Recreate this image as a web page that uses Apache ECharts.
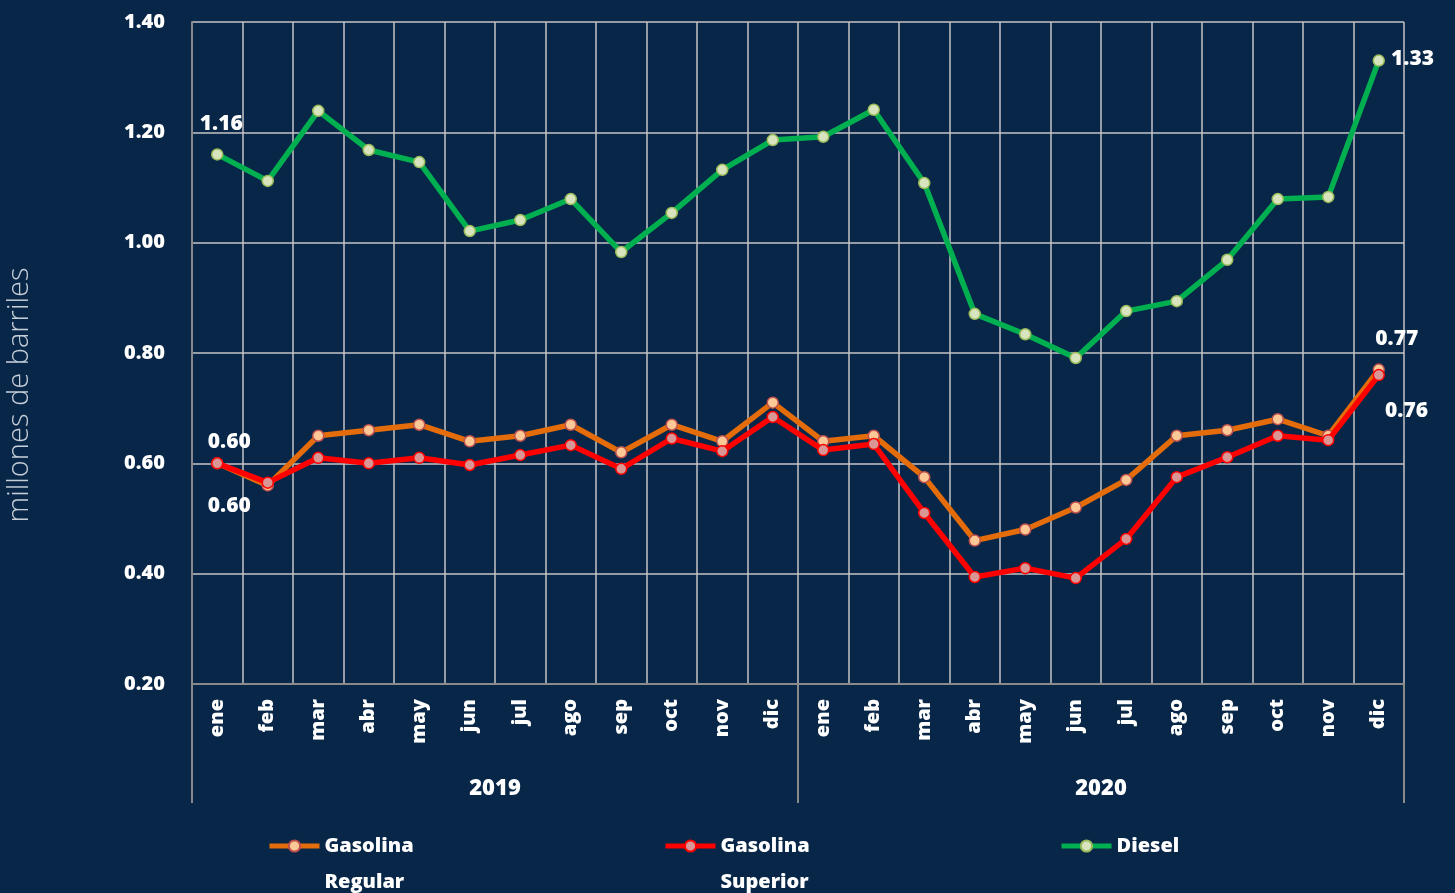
<!DOCTYPE html>
<html>
<head>
<meta charset="utf-8">
<script src="https://cdn.jsdelivr.net/npm/echarts@6/dist/echarts.min.js"></script>
<style>
  html, body { margin: 0; padding: 0; background: #082748; }
  #chart { width: 1455px; height: 893px; }
</style>
</head>
<body>
<div id="chart"></div>
<script>
// months for 2019 and 2020
const months = ['ene', 'feb', 'mar', 'abr', 'may', 'jun', 'jul', 'ago', 'sep', 'oct', 'nov', 'dic',
  'ene', 'feb', 'mar', 'abr', 'may', 'jun', 'jul', 'ago', 'sep', 'oct', 'nov', 'dic']
const years = ['2019', '2020']

const gasRegular = [0.60, 0.56, 0.65, 0.66, 0.67, 0.64, 0.65, 0.67, 0.62, 0.67, 0.64, 0.71,
  0.64, 0.65, 0.575, 0.46, 0.48, 0.52, 0.57, 0.65, 0.66, 0.68, 0.65, 0.77]
const gasSuperior = [0.60, 0.565, 0.61, 0.60, 0.61, 0.597, 0.615, 0.633, 0.59, 0.645, 0.622, 0.684,
  0.624, 0.635, 0.51, 0.394, 0.41, 0.392, 0.463, 0.575, 0.611, 0.65, 0.642, 0.76]
const diesel = [1.16, 1.112, 1.239, 1.168, 1.146, 1.021, 1.041, 1.079, 0.983, 1.054, 1.132, 1.186,
  1.192, 1.241, 1.108, 0.871, 0.834, 0.791, 0.876, 0.894, 0.969, 1.079, 1.083, 1.33]

const seriesNames = ['Gasolina\nRegular', 'Gasolina\nSuperior', 'Diesel']

const fontFam = '"Open Sans", sans-serif'
const gridColor = '#c4c4c4'
const axisColor = '#8a8a8a'

const labelStyle = {
  show: true,
  color: '#fff',
  fontFamily: fontFam,
  fontWeight: 800,
  fontSize: 21,
  formatter: p => p.value.toFixed(2)
}

// only the first and last points carry a label
const withLabels = (values, first, last) => values.map((v, i) => {
  if (i === 0 && first) return { value: v, label: Object.assign({}, labelStyle, first) }
  if (i === values.length - 1 && last) return { value: v, label: Object.assign({}, labelStyle, last) }
  return v
})

// one legend per series so each sits where the reference puts it
const legendAt = (name, left) => ({
  left: left,
  top: 787,
  itemWidth: 50,
  itemHeight: 14,
  lineStyle: { width: 5 },
  textStyle: {
    color: '#fff',
    fontFamily: fontFam,
    fontWeight: 800,
    fontSize: 20,
    lineHeight: 36
  },
  // two-line names get an empty first line so the icon stays level with the first word
  formatter: n => n.indexOf('\n') >= 0 ? ' \n' + n : n,
  data: [name]
})

const chart = echarts.init(document.getElementById('chart'))
chart.setOption({
  backgroundColor: '#082748',
  animation: false,
  grid: { left: 192, right: 51, top: 22, bottom: 209, containLabel: false, outerBoundsMode: 'none' },
  legend: [
    legendAt(seriesNames[0], 262),
    legendAt(seriesNames[1], 658),
    Object.assign(legendAt(seriesNames[2], 1054), { top: 823 })
  ],
  xAxis: [
    {
      type: 'category',
      data: months,
      axisLine: { lineStyle: { color: axisColor, width: 2 } },
      axisTick: { show: false },
      splitLine: { show: true, interval: 0, lineStyle: { color: gridColor, width: 1.5 } },
      axisLabel: {
        interval: 0,
        rotate: 90,
        margin: 15,
        color: '#fff',
        fontFamily: fontFam,
        fontWeight: 800,
        fontSize: 20
      }
    },
    {
      type: 'category',
      data: years,
      position: 'bottom',
      axisLine: { show: false },
      axisTick: { show: true, interval: 0, length: 119, lineStyle: { color: axisColor, width: 2 } },
      splitLine: { show: false },
      axisLabel: {
        margin: 94,
        color: '#fff',
        fontFamily: fontFam,
        fontWeight: 800,
        fontSize: 22
      }
    }
  ],
  yAxis: {
    type: 'value',
    min: 0.2,
    max: 1.4,
    interval: 0.2,
    name: 'millones de barriles',
    nameLocation: 'middle',
    nameGap: 158,
    nameTextStyle: {
      color: '#c6ced8',
      fontFamily: fontFam,
      fontWeight: 300,
      fontSize: 29,
      padding: [0, 84, 0, 0]
    },
    axisLine: { show: true, lineStyle: { color: axisColor, width: 2 } },
    axisTick: { show: false },
    splitLine: { lineStyle: { color: gridColor, width: 1.5 } },
    axisLabel: {
      margin: 27,
      color: '#fff',
      fontFamily: fontFam,
      fontWeight: 800,
      fontSize: 20,
      formatter: v => v.toFixed(2)
    }
  },
  series: [
    {
      name: seriesNames[0],
      type: 'line',
      data: withLabels(gasRegular,
        { position: 'bottom', distance: 26, offset: [12, 0] },
        { position: 'top', distance: 14, offset: [18, 0] }),
      symbol: 'circle',
      symbolSize: 11,
      lineStyle: { color: '#e46c0a', width: 5.5 },
      itemStyle: { color: '#fbc896', borderColor: '#c0504d', borderWidth: 1.5 },
      z: 2
    },
    {
      name: seriesNames[1],
      type: 'line',
      data: withLabels(gasSuperior,
        { position: 'top', distance: 5, offset: [12, 0] },
        { position: 'right', distance: 0, offset: [0, 36] }),
      symbol: 'circle',
      symbolSize: 11,
      lineStyle: { color: '#ff0000', width: 5.5 },
      itemStyle: { color: '#d99694', borderColor: '#ff0000', borderWidth: 1.5 },
      z: 3
    },
    {
      name: seriesNames[2],
      type: 'line',
      data: withLabels(diesel,
        { position: 'top', distance: 14, offset: [4, 0] },
        { position: 'right', distance: 6, offset: [0, -2] }),
      symbol: 'circle',
      symbolSize: 11,
      lineStyle: { color: '#00b050', width: 5.5 },
      itemStyle: { color: '#d7e4bd', borderColor: '#9bbb59', borderWidth: 1.5 },
      z: 4
    }
  ]
})
</script>
</body>
</html>
